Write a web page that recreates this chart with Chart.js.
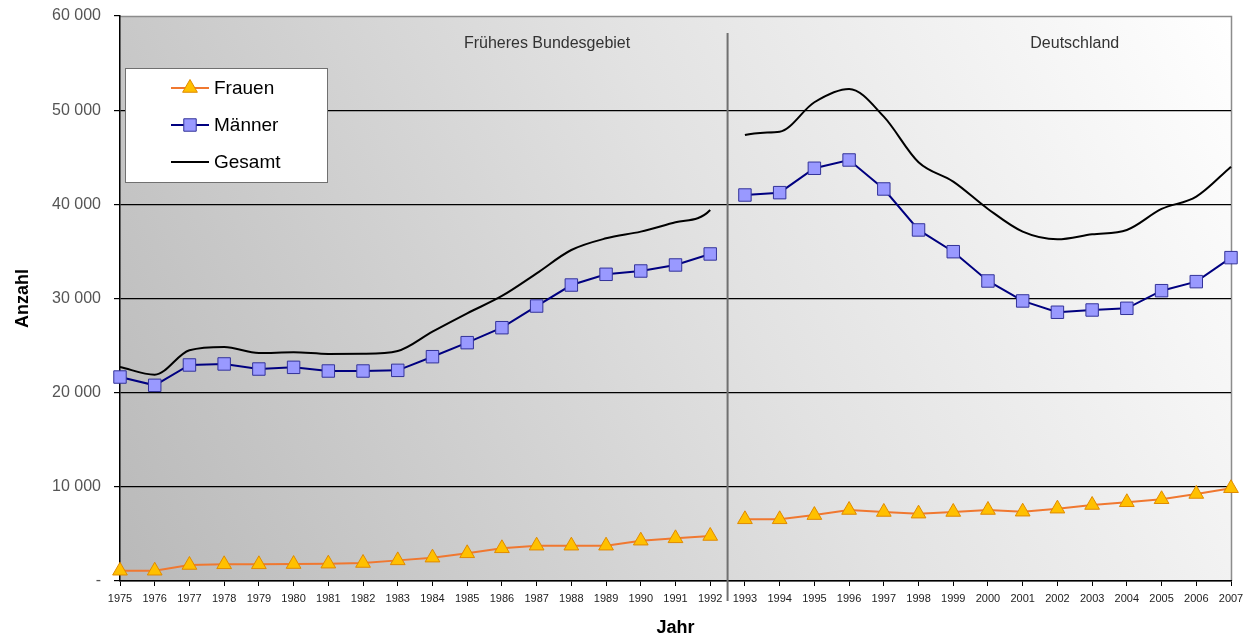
<!DOCTYPE html>
<html lang="de">
<head>
  <meta charset="UTF-8">
  <title>Anzahl nach Jahr</title>
  <script src="https://cdn.jsdelivr.net/npm/chart.js"></script>
  <style>
    html, body { margin: 0; padding: 0; background: #fff; }
    #wrap { width: 1247px; height: 639px; position: relative; }
  </style>
</head>
<body>
  <div id="wrap"><canvas id="chart"></canvas></div>
  <script>
    // Daten
    const jahre = ['1975','1976','1977','1978','1979','1980','1981','1982','1983','1984','1985','1986','1987','1988','1989','1990','1991',
                   '1992','1993','1994','1995','1996','1997','1998','1999','2000','2001','2002','2003','2004','2005','2006','2007'];
    const frauen = [1090, 1090, 1700, 1770, 1770, 1800, 1840, 1910, 2190, 2480, 2940, 3470, 3750, 3750, 3750, 4280, 4530,
                    4780, 6550, 6550, 7000, 7540, 7330, 7150, 7330, 7540, 7360, 7680, 8070, 8360, 8680, 9240, 9850];
    const maenner = [21660, 20780, 22940, 23050, 22510, 22690, 22300, 22300, 22370, 23820, 25310, 26900, 29200, 31430, 32570, 32920, 33560,
                     34730, 40990, 41240, 43830, 44710, 41630, 37280, 34970, 31860, 29740, 28540, 28780, 28960, 30830, 31790, 34340];
    const gesamt = [22730, 21910, 24500, 24850, 24210, 24290, 24110, 24130, 24430, 26480, 28430, 30270, 32670, 35150, 36390, 37100, 38090,
                    39400, 47360, 47720, 50840, 52250, 49310, 44470, 42410, 39510, 37100, 36290, 36820, 37280, 39510, 40820, 44000];
    const yTicks = [0, 10000, 20000, 30000, 40000, 50000, 60000];
    const bereiche = ['Früheres Bundesgebiet', 'Deutschland'];
    const bruchIndex = 17; // letzter Wert des früheren Bundesgebiets

    const FONT = 'Arial, "Liberation Sans", sans-serif';

    // keine Verbindung zwischen 1992 und 1993
    const gap = { borderColor: c => c.p0DataIndex === bruchIndex ? 'rgba(0,0,0,0)' : undefined };

    const bgPlugin = {
      id: 'bg',
      beforeDraw(chart) {
        const { ctx, chartArea: a } = chart;
        const g = ctx.createLinearGradient(a.left, a.bottom, a.right, a.top);
        g.addColorStop(0, '#b9b9b9');
        g.addColorStop(0.55, '#e2e2e2');
        g.addColorStop(1, '#ffffff');
        ctx.save();
        ctx.fillStyle = g;
        ctx.fillRect(a.left, a.top, a.right - a.left, a.bottom - a.top);
        ctx.strokeStyle = '#8c8c8c';
        ctx.lineWidth = 1.5;
        ctx.beginPath();
        ctx.moveTo(a.left, a.top + 0.5);
        ctx.lineTo(a.right + 0.5, a.top + 0.5);
        ctx.lineTo(a.right + 0.5, a.bottom);
        ctx.stroke();
        ctx.restore();
      }
    };

    const annoPlugin = {
      id: 'anno',
      beforeDatasetsDraw(chart) {
        const { ctx, chartArea: a, scales: { x } } = chart;
        const xm = (x.getPixelForValue(bruchIndex) + x.getPixelForValue(bruchIndex + 1)) / 2;
        ctx.save();
        ctx.strokeStyle = '#707070';
        ctx.lineWidth = 2;
        ctx.beginPath();
        ctx.moveTo(xm, a.top + 17);
        ctx.lineTo(xm, a.bottom + 20);
        ctx.stroke();
        ctx.fillStyle = '#333';
        ctx.font = '16px ' + FONT;
        ctx.textAlign = 'center';
        ctx.textBaseline = 'middle';
        ctx.fillText(bereiche[0], x.getPixelForValue(12.3), a.top + 28);
        ctx.fillText(bereiche[1], x.getPixelForValue(27.5), a.top + 28);
        ctx.restore();
      },
      afterDraw(chart) {
        const { ctx } = chart;
        const bx = 125, by = 68, bw = 202, bh = 114;
        ctx.save();
        ctx.fillStyle = '#fff';
        ctx.fillRect(bx, by, bw, bh);
        ctx.strokeStyle = '#707070';
        ctx.lineWidth = 1;
        ctx.strokeRect(bx + 0.5, by + 0.5, bw, bh);
        ctx.font = '19px ' + FONT;
        ctx.textBaseline = 'middle';
        chart.data.datasets.forEach((ds, i) => {
          const y = 88 + i * 37;
          ctx.strokeStyle = ds.borderColor;
          ctx.lineWidth = 2;
          ctx.beginPath();
          ctx.moveTo(171, y);
          ctx.lineTo(209, y);
          ctx.stroke();
          if (ds.pointRadius > 0) {
            ctx.fillStyle = ds.pointBackgroundColor;
            ctx.strokeStyle = ds.pointBorderColor;
            ctx.lineWidth = 1;
            Chart.helpers.drawPoint(ctx, { pointStyle: ds.pointStyle, radius: ds.pointRadius, borderWidth: 1 }, 190, y);
          }
          ctx.fillStyle = '#000';
          ctx.fillText(ds.label, 214, y + 1);
        });
        ctx.restore();
      }
    };

    new Chart(document.getElementById('chart'), {
      type: 'line',
      data: {
        labels: jahre,
        datasets: [
          {
            label: 'Frauen', data: frauen,
            borderColor: '#f07830', borderWidth: 2,
            pointStyle: 'triangle', pointRadius: 8.5,
            pointBackgroundColor: '#ffc000', pointBorderColor: '#e08a00', pointBorderWidth: 1,
            segment: gap, order: 1
          },
          {
            label: 'Männer', data: maenner,
            borderColor: '#000080', borderWidth: 2,
            pointStyle: 'rect', pointRadius: 8.8,
            pointBackgroundColor: '#9999ff', pointBorderColor: '#333399', pointBorderWidth: 1,
            segment: gap, order: 2
          },
          {
            label: 'Gesamt', data: gesamt,
            borderColor: '#000000', borderWidth: 2,
            cubicInterpolationMode: 'monotone',
            pointRadius: 0,
            segment: gap, order: 3
          }
        ]
      },
      options: {
        responsive: true,
        maintainAspectRatio: false,
        animation: false,
        layout: { padding: { top: 16, right: 16, left: 0, bottom: 0 } },
        plugins: { legend: { display: false }, tooltip: { enabled: false } },
        scales: {
          x: {
            offset: false,
            afterFit: s => { s.height = 58; s.paddingLeft = 0; s.paddingRight = 0; },
            grid: { drawOnChartArea: false, drawTicks: true, tickLength: 5, tickColor: '#000', offset: false },
            border: { color: '#000', width: 1.5 },
            ticks: {
              autoSkip: false, maxRotation: 0, minRotation: 0, padding: 6,
              color: '#222', font: { family: FONT, size: 11 }
            },
            title: {
              display: true, text: 'Jahr', color: '#000',
              font: { family: FONT, size: 18, weight: 'bold' },
              padding: { top: 0, bottom: 0 }
            }
          },
          y: {
            min: 0, max: 60000,
            afterFit: s => { s.width = 120; s.paddingTop = 0; s.paddingBottom = 0; },
            afterBuildTicks: s => { s.ticks = yTicks.map(v => ({ value: v })); },
            grid: {
              color: c => c.tick && c.tick.value === 60000 ? 'rgba(0,0,0,0)' : '#000',
              lineWidth: 1.2, tickLength: 6, tickColor: '#000'
            },
            border: { color: '#000', width: 1.5 },
            ticks: {
              padding: 13, color: '#555',
              font: { family: FONT, size: 16 },
              callback: v => v === 0 ? '-' : String(v).replace(/\B(?=(\d{3})+(?!\d))/g, ' ')
            },
            title: {
              display: true, text: 'Anzahl', color: '#000',
              font: { family: FONT, size: 18, weight: 'bold' },
              padding: { top: 12, bottom: 0 }
            }
          }
        }
      },
      plugins: [bgPlugin, annoPlugin]
    });
  </script>
</body>
</html>
